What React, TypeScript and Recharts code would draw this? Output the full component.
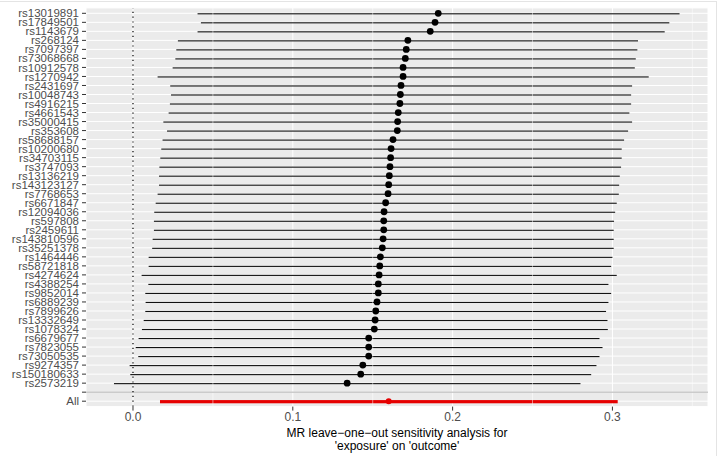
import { ComposedChart, Bar, Line, XAxis, YAxis, CartesianGrid, ReferenceLine } from 'recharts';

const snps = [
  'rs13019891', 'rs17849501', 'rs1143679', 'rs268124', 'rs7097397', 'rs73068668', 'rs10912578',
  'rs1270942', 'rs2431697', 'rs10048743', 'rs4916215', 'rs4661543', 'rs35000415', 'rs353608',
  'rs58688157', 'rs10200680', 'rs34703115', 'rs3747093', 'rs13136219', 'rs143123127', 'rs7768653',
  'rs6671847', 'rs12094036', 'rs597808', 'rs2459611', 'rs143810596', 'rs35251378', 'rs1464446',
  'rs58721818', 'rs4274624', 'rs4388254', 'rs9852014', 'rs6889239', 'rs7899626', 'rs13332649',
  'rs1078324', 'rs6679677', 'rs7823055', 'rs73050535', 'rs9274357', 'rs150180633', 'rs2573219',
];

const beta = [
  0.191, 0.189, 0.186, 0.172, 0.171, 0.1704, 0.169,
  0.169, 0.1677, 0.1673, 0.167, 0.166, 0.1656, 0.1654,
  0.1627, 0.1615, 0.1612, 0.1608, 0.1604, 0.16, 0.1596,
  0.1581, 0.1571, 0.1569, 0.1569, 0.1565, 0.156, 0.1548,
  0.1544, 0.154, 0.1535, 0.1535, 0.1527, 0.1519, 0.1515,
  0.151, 0.1475, 0.1475, 0.1475, 0.1438, 0.1425, 0.134,
];

const lower = [
  0.0404, 0.0425, 0.0404, 0.0281, 0.0271, 0.0265, 0.0248,
  0.0154, 0.0233, 0.0238, 0.0231, 0.0223, 0.019, 0.0213,
  0.0185, 0.0177, 0.0171, 0.0165, 0.0163, 0.0163, 0.0154,
  0.0142, 0.0133, 0.0131, 0.0131, 0.0123, 0.012, 0.0098,
  0.0098, 0.0054, 0.0096, 0.0077, 0.0079, 0.0077, 0.0067,
  0.0056, 0.0035, 0.0017, 0.0033, -0.0021, -0.0017, -0.0119,
];

const upper = [
  0.342, 0.3356, 0.3327, 0.316, 0.3156, 0.3146, 0.314,
  0.3227, 0.3123, 0.3117, 0.3117, 0.3106, 0.3123, 0.3098,
  0.3073, 0.3058, 0.3058, 0.3054, 0.3046, 0.3042, 0.304,
  0.3027, 0.3017, 0.301, 0.3008, 0.3008, 0.3008, 0.3,
  0.2992, 0.3027, 0.2975, 0.2992, 0.2975, 0.296, 0.2969,
  0.2971, 0.2919, 0.2938, 0.2919, 0.29, 0.2867, 0.28,
];

const allBeta = 0.16;
const allLower = 0.0169;
const allUpper = 0.3033;

const xTicks = [0, 0.1, 0.2, 0.3];
const minorTicks = [0.05, 0.15, 0.25, 0.35];

const rows = [
  ...snps.map((snp, i) => ({ snp, b: beta[i], ci: [lower[i], upper[i]], all: false })),
  { snp: ' ', b: null, ci: null, all: false },
  { snp: 'All', b: allBeta, ci: [allLower, allUpper], all: true },
];

const CiShape = (props: any) => {
  const { x, y, width, height, payload } = props;
  if (payload == null || payload.ci == null) return <g />;
  const t = payload.all ? 3.2 : 1.1;
  const left = Math.min(x, x + width);
  return (
    <rect
      x={left}
      y={y + height / 2 - t / 2}
      width={Math.abs(width)}
      height={t}
      fill={payload.all ? '#e60000' : '#111'}
    />
  );
};

const Dot = (props: any) => {
  const { cx, cy, payload, index } = props;
  if (payload == null || payload.b == null || cx == null || cy == null) return <g key={index} />;
  return (
    <circle
      key={index}
      cx={cx}
      cy={cy}
      r={payload.all ? 3 : 3.4}
      fill={payload.all ? '#e60000' : '#000'}
    />
  );
};

export default function App() {
  return (
    <div style={{ position: 'absolute', left: 0, top: 0, width: 719, height: 456, background: '#fff', fontFamily: '"Liberation Sans", Arial, sans-serif' }}>
      <div style={{ position: 'absolute', left: 0, top: 1, width: 716, height: 454, borderTop: '1px solid #e4e4e4', borderRight: '1px solid #e4e4e4' }} />
      <ComposedChart
        width={719}
        height={456}
        data={rows}
        layout="vertical"
        margin={{ top: 7.9, right: 11, bottom: 29.4, left: 0 }}
        style={{ position: 'absolute', left: 0, top: 0 }}
      >
        <CartesianGrid fill="#EBEBEB" stroke="#fff" strokeWidth={1} />
        {minorTicks.map((t) => (
          <ReferenceLine key={t} x={t} stroke="#fff" strokeWidth={0.5} ifOverflow="hidden" />
        ))}
        <XAxis
          type="number"
          dataKey="b"
          domain={[-0.0294, 0.3598]}
          allowDataOverflow
          ticks={xTicks}
          tickFormatter={(v: number) => v.toFixed(1)}
          axisLine={false}
          tickLine={{ stroke: '#333' }}
          tickSize={4}
          tickMargin={2}
          tick={{ fill: '#4d4d4d', fontSize: 12 }}
          height={20}
        />
        <YAxis
          type="category"
          dataKey="snp"
          width={86}
          interval={0}
          axisLine={false}
          tickLine={{ stroke: '#333' }}
          tickSize={4}
          tickMargin={3}
          tick={{ fill: '#4d4d4d', fontSize: 11.5 }}
          padding={{ top: 0.9, bottom: 0.9 }}
        />
        <ReferenceLine y=" " stroke="#b3b3b3" strokeWidth={1} />
        <ReferenceLine x={0} stroke="#000" strokeWidth={1.2} strokeDasharray="1.2 3.6" />
        <Bar dataKey="ci" barSize={4} shape={CiShape} isAnimationActive={false} />
        <Line dataKey="b" stroke="none" dot={Dot} activeDot={false} isAnimationActive={false} />
      </ComposedChart>
      <div style={{ position: 'absolute', left: 86, top: 426.5, width: 622, textAlign: 'center', fontSize: 12, lineHeight: '13.5px', color: '#000' }}>
        MR leave−one−out sensitivity analysis for
        <br />
        'exposure' on 'outcome'
      </div>
    </div>
  );
}
